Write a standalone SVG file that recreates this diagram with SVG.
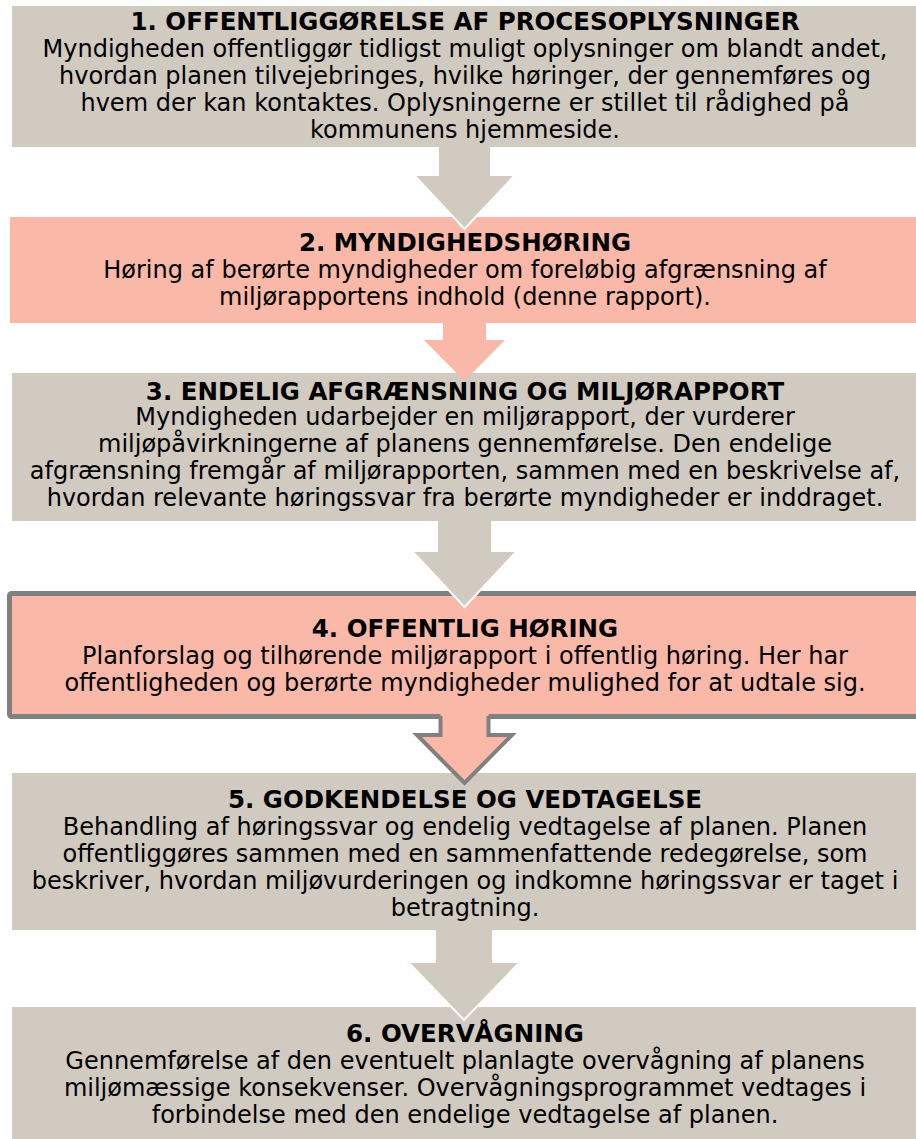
<svg xmlns="http://www.w3.org/2000/svg" width="916" height="1139" viewBox="0 0 916 1139">
<style>
.g{fill:#d1cac0}
.s{fill:#f9b8a8}
.t{font-family:"DejaVu Sans",Verdana,sans-serif;font-weight:bold;font-size:24.5px;fill:#000;text-anchor:middle}
.b{font-family:"DejaVu Sans",Verdana,sans-serif;font-size:24px;fill:#000;text-anchor:middle}
.wo{stroke:#fff;stroke-width:2;stroke-linejoin:miter}
</style>
<rect width="916" height="1139" fill="#fff"/>
<g id="node1">
<rect class="g" x="12" y="6" width="904" height="141"/>
<text class="t" x="465" y="30">1. OFFENTLIGGØRELSE AF PROCESOPLYSNINGER</text>
<text class="b" x="465" y="57">Myndigheden offentliggør tidligst muligt oplysninger om blandt andet,</text>
<text class="b" x="465" y="84">hvordan planen tilvejebringes, hvilke høringer, der gennemføres og</text>
<text class="b" x="465" y="111">hvem der kan kontaktes. Oplysningerne er stillet til rådighed på</text>
<text class="b" x="465" y="138">kommunens hjemmeside.</text>
</g>
<g id="node2">
<rect class="s" x="10" y="217" width="906" height="106"/>
<text class="t" x="465" y="251">2. MYNDIGHEDSHØRING</text>
<text class="b" x="465" y="278">Høring af berørte myndigheder om foreløbig afgrænsning af</text>
<text class="b" x="465" y="305">miljørapportens indhold (denne rapport).</text>
</g>
<g id="node3">
<rect class="g" x="12" y="373" width="904" height="148"/>
<text class="t" x="465" y="400">3. ENDELIG AFGRÆNSNING OG MILJØRAPPORT</text>
<text class="b" x="465" y="425">Myndigheden udarbejder en miljørapport, der vurderer</text>
<text class="b" x="465" y="452">miljøpåvirkningerne af planens gennemførelse. Den endelige</text>
<text class="b" x="465" y="479">afgrænsning fremgår af miljørapporten, sammen med en beskrivelse af,</text>
<text class="b" x="465" y="506">hvordan relevante høringssvar fra berørte myndigheder er inddraget.</text>
</g>
<g id="node4">
<rect class="s" x="9.5" y="593.5" width="912" height="123" rx="2" stroke="#808080" stroke-width="5"/>
<text class="t" x="465" y="637">4. OFFENTLIG HØRING</text>
<text class="b" x="465" y="664">Planforslag og tilhørende miljørapport i offentlig høring. Her har</text>
<text class="b" x="465" y="691">offentligheden og berørte myndigheder mulighed for at udtale sig.</text>
</g>
<g id="node5">
<rect class="g" x="12" y="773" width="904" height="157"/>
<text class="t" x="465" y="808">5. GODKENDELSE OG VEDTAGELSE</text>
<text class="b" x="465" y="835">Behandling af høringssvar og endelig vedtagelse af planen. Planen</text>
<text class="b" x="465" y="862">offentliggøres sammen med en sammenfattende redegørelse, som</text>
<text class="b" x="465" y="889">beskriver, hvordan miljøvurderingen og indkomne høringssvar er taget i</text>
<text class="b" x="465" y="916">betragtning.</text>
</g>
<g id="node6">
<rect class="g" x="12" y="1007" width="904" height="132"/>
<text class="t" x="465" y="1042">6. OVERVÅGNING</text>
<text class="b" x="465" y="1069">Gennemførelse af den eventuelt planlagte overvågning af planens</text>
<text class="b" x="465" y="1096">miljømæssige konsekvenser. Overvågningsprogrammet vedtages i</text>
<text class="b" x="465" y="1123">forbindelse med den endelige vedtagelse af planen.</text>
</g>
<g id="connectors">
<polygon class="g wo" points="438,148 491,148 491,175 515,175 464.5,229 414,175 438,175"/>
<rect class="g" x="439" y="146" width="51" height="4"/>
<polygon class="s" points="443,322 486,322 486,340 505,340 464.5,381 424,340 443,340"/>
<polygon class="g wo" points="437,522 492,522 492,551 517,551 464.5,607 412,551 437,551"/>
<rect class="g" x="438" y="520" width="53" height="4"/>
<polygon class="s" points="440.5,712 488.5,712 488.5,735 512,735 464.5,783 417,735 440.5,735"/>
<polyline points="440.5,716 440.5,735 417,735 464.5,783 512,735 488.5,735 488.5,716" fill="none" stroke="#808080" stroke-width="4" stroke-linejoin="miter"/>
<polygon class="g wo" points="435,931 493,931 493,962 520,962 464,1020 408,962 435,962"/>
<rect class="g" x="436" y="929" width="56" height="4"/>
</g>
</svg>
